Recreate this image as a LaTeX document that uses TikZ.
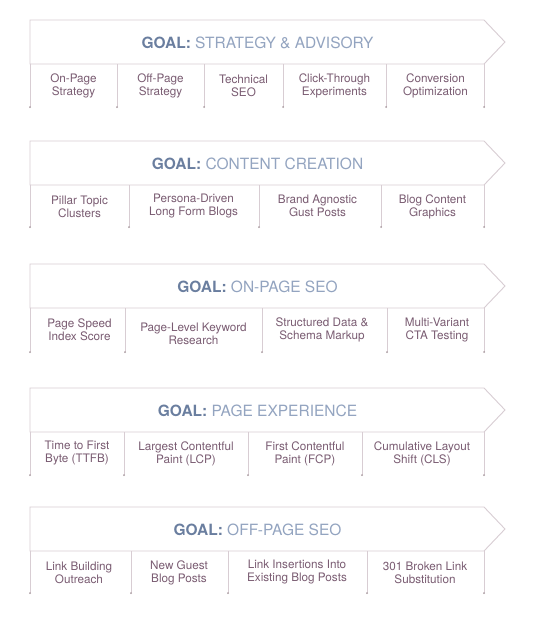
\documentclass[tikz,border=0pt]{standalone}
\usepackage{fontspec}
\setmainfont{TeX Gyre Heros}
\definecolor{edge}{HTML}{D8CDD3}
\definecolor{goaldark}{HTML}{6A7E9F}
\definecolor{goallight}{HTML}{93A4C0}
\definecolor{itemtxt}{HTML}{7A5C72}
\definecolor{dotc}{HTML}{A8999F}
\tikzset{
  banner/.style={draw=edge, line width=0.9pt, line join=miter},
  goaltitle/.style={font=\fontsize{15.5}{18}\selectfont, text=goallight, inner sep=0pt},
  item/.style={font=\fontsize{11.7}{13}\selectfont, text=itemtxt, align=center, inner sep=0pt},
  divider/.style={draw=edge, line width=0.8pt},
  enddot/.style={circle, fill=dotc, inner sep=0pt, minimum size=2pt},
}
\newcommand{\goalrow}[5]{%
  \draw[banner] (30,#2) -- (484,#2) -- (505,{#2+22}) -- (484,{#2+44}) -- (30,{#2+44}) -- cycle;
  \node[goaltitle] (#1title) at (257.5,{#2+22.5}) {{\bfseries\color{goaldark}GOAL:} #3};
  \foreach \x [count=\i] in {#4} {
    \coordinate (#1top\i) at (\x,{#2+44});
    \coordinate (#1bot\i) at (\x,#5);
    \draw[divider] (#1top\i) -- (#1bot\i);
    \node[enddot] (#1dot\i) at (#1bot\i) {};
  }
}
\begin{document}
\begin{tikzpicture}[x=1pt,y=-1pt]
\useasboundingbox[fill=white] (0,0) rectangle (540,624);

% Row 1
\goalrow{a}{20}{STRATEGY \& ADVISORY}{30,117,204,283,386,484}{107}
\node[item] (a1) at (73.5,86) {On-Page\\Strategy};
\node[item] (a2) at (160.5,86) {Off-Page\\Strategy};
\node[item] (a3) at (243.5,86) {Technical\\SEO};
\node[item] (a4) at (334.5,86) {Click-Through\\Experiments};
\node[item] (a5) at (435.5,86) {Conversion\\Optimization};

% Row 2
\goalrow{b}{141}{CONTENT CREATION}{30,129,259,381,484}{227}
\node[item] (b1) at (79.5,206.5) {Pillar Topic\\Clusters};
\node[item] (b2) at (193.5,206.5) {Persona-Driven\\Long Form Blogs};
\node[item] (b3) at (317.5,205.5) {Brand Agnostic\\Gust Posts};
\node[item] (b4) at (432.5,206.5) {Blog Content\\Graphics};

% Row 3
\goalrow{c}{264}{ON-PAGE SEO}{30,125,262,387,484}{352}
\node[item] (c1) at (79.5,329.5) {Page Speed\\Index Score};
\node[item] (c2) at (193.5,334) {Page-Level Keyword\\Research};
\node[item] (c3) at (322,329.5) {Structured Data \&\\Schema Markup};
\node[item] (c4) at (437,330.5) {Multi-Variant\\CTA Testing};

% Row 4
\goalrow{d}{388}{PAGE EXPERIENCE}{30,124,248,362,484}{475}
\node[item] (d1) at (77,453.5) {Time to First\\Byte (TTFB)};
\node[item] (d2) at (186,453.5) {Largest Contentful\\Paint (LCP)};
\node[item] (d3) at (305,453.5) {First Contentful\\Paint (FCP)};
\node[item] (d4) at (422,453.5) {Cumulative Layout\\Shift (CLS)};

% Row 5
\goalrow{e}{507}{OFF-PAGE SEO}{30,131,228,367,484}{593}
\node[item] (e1) at (79,572.5) {Link Building\\Outreach};
\node[item] (e2) at (179,572.5) {New Guest\\Blog Posts};
\node[item] (e3) at (297,572) {Link Insertions Into\\Existing Blog Posts};
\node[item] (e4) at (425,572.5) {301 Broken Link\\Substitution};
\end{tikzpicture}
\end{document}
